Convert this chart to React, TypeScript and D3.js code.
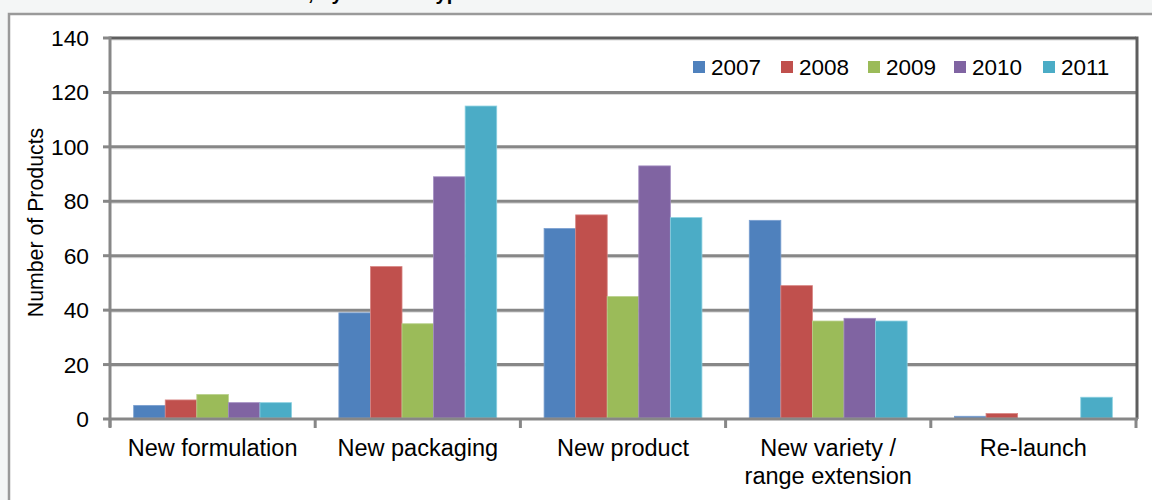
import React from "react";
import * as d3 from "d3";

const categories = ["New formulation", "New packaging", "New product", "New variety / range extension", "Re-launch"];
const categoryLines = [["New formulation"], ["New packaging"], ["New product"], ["New variety /", "range extension"], ["Re-launch"]];
const years = ["2007", "2008", "2009", "2010", "2011"];
const values2007 = [5, 39, 70, 73, 1];
const values2008 = [7, 56, 75, 49, 2];
const values2009 = [9, 35, 45, 36, 0];
const values2010 = [6, 89, 93, 37, 0];
const values2011 = [6, 115, 74, 36, 8];
const seriesValues = [values2007, values2008, values2009, values2010, values2011];
const colors = ["#4F81BD", "#C0504D", "#9BBB59", "#8064A2", "#4BACC6"];
const strokeColors = ["#7A9FD0", "#D88482", "#B8D08A", "#A08CC0", "#8AD0E0"];
const yTicks = [0, 20, 40, 60, 80, 100, 120, 140];

const W = 1152;
const H = 500;
const left = 110;
const right = 1136;
const top = 38;
const bottom = 419;
const FONT = "'Liberation Sans', Arial, sans-serif";

export default function App() {
  const y = d3.scaleLinear().domain([0, 140]).range([bottom, top]);
  const x0 = d3.scaleBand<string>().domain(categories).range([left, right]).paddingInner(0).paddingOuter(0);
  const x1 = d3.scaleBand<string>().domain(years).range([0, x0.bandwidth()]).paddingInner(0).paddingOuter(0.75);
  const boundaries = categories.map((c) => x0(c)!).concat([right]);

  const legendX = [693, 781, 868, 954, 1043];

  return (
    <svg width={W} height={H} style={{ position: "absolute", left: 0, top: 0, display: "block" }} fontFamily={FONT}>
      <rect x={0} y={0} width={W} height={H} fill="#F4F6F6" />
      <rect x={9} y={14} width={W + 10} height={H} fill="#FFFFFF" stroke="#9A9A9A" strokeWidth={2.5} />
      <text x={470} y={-0.5} textAnchor="end" fontSize={20} fontWeight="bold" fill="#000">
        Number of New Product Launches, by Launch Type
      </text>

      {/* gridlines */}
      {yTicks.filter((t) => t > 0).map((t) => (
        <g key={t}>
          <line x1={left} x2={right} y1={y(t) + 2} y2={y(t) + 2} stroke="#D9D9D9" strokeWidth={1} />
          <line x1={left} x2={right} y1={y(t)} y2={y(t)} stroke={t === 140 ? "#5E5E5E" : "#878787"} strokeWidth={3} />
        </g>
      ))}
      {/* right border */}
      <line x1={right + 1} x2={right + 1} y1={top - 1.5} y2={bottom} stroke="#5E5E5E" strokeWidth={3} />

      {/* bars */}
      {categories.map((c, ci) => (
        <g key={c} transform={`translate(${x0(c)},0)`}>
          {years.map((yr, si) => {
            const v = seriesValues[si][ci];
            if (v <= 0) return null;
            const bx = x1(yr)!;
            const by = y(v);
            return (
              <rect
                key={yr}
                x={bx}
                y={by}
                width={x1.bandwidth()}
                height={bottom - 1 - by}
                fill={colors[si]}
                stroke={strokeColors[si]}
                strokeWidth={0.8}
              />
            );
          })}
        </g>
      ))}

      {/* y axis */}
      <line x1={left} x2={left} y1={top - 1.5} y2={bottom + 8} stroke="#878787" strokeWidth={3} />
      {yTicks.map((t) => (
        <g key={t}>
          <line x1={left - 7} x2={left} y1={y(t)} y2={y(t)} stroke="#878787" strokeWidth={3} />
          <text x={89} y={y(t) + 8} textAnchor="end" fontSize={22.8} fill="#000">
            {t}
          </text>
        </g>
      ))}
      <text
        transform={`translate(43,${(top + bottom) / 2 - 6}) rotate(-90)`}
        textAnchor="middle"
        fontSize={21.3}
        fill="#000"
      >
        Number of Products
      </text>

      {/* x axis */}
      <line x1={left} x2={right + 2} y1={bottom} y2={bottom} stroke="#878787" strokeWidth={3} />
      {boundaries.map((b, i) => (
        <line key={i} x1={b} x2={b} y1={bottom} y2={bottom + 9} stroke="#878787" strokeWidth={3} />
      ))}
      {categories.map((c, ci) => (
        <text key={c} x={x0(c)! + x0.bandwidth() / 2} y={456} textAnchor="middle" fontSize={23.5} fill="#000">
          {categoryLines[ci].map((ln, li) => (
            <tspan key={li} x={x0(c)! + x0.bandwidth() / 2} dy={li === 0 ? 0 : 28}>
              {ln}
            </tspan>
          ))}
        </text>
      ))}

      {/* legend */}
      {years.map((yr, i) => (
        <g key={yr}>
          <rect x={legendX[i]} y={61} width={12} height={12} fill={colors[i]} />
          <text x={legendX[i] + 18} y={75} fontSize={22.5} fill="#000">
            {yr}
          </text>
        </g>
      ))}
    </svg>
  );
}
